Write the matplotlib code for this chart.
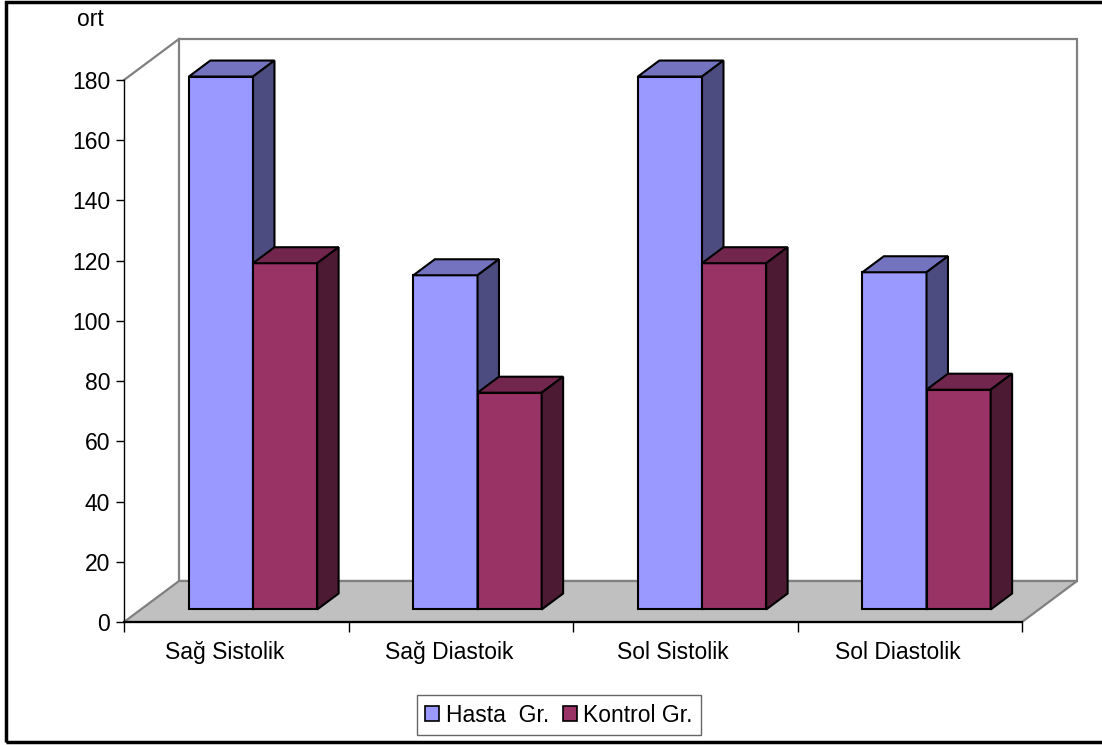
import matplotlib
matplotlib.use('Agg')
import matplotlib.pyplot as plt
from matplotlib.patches import Polygon, Rectangle
from matplotlib.transforms import ScaledTranslation

plt.rcParams['font.family'] = ['Liberation Sans', 'DejaVu Sans']

categories = ['Sağ Sistolik', 'Sağ Diastoik', 'Sol Sistolik', 'Sol Diastolik']
series_names = ['Hasta  Gr.', 'Kontrol Gr.']
hasta = [177, 111, 177, 112]
kontrol = [115, 72, 115, 73]
yticks = [0, 20, 40, 60, 80, 100, 120, 140, 160, 180]

# face colours: front, top, side
colors = {
    'Hasta  Gr.': ('#9999FF', '#7373BF', '#4C4C80'),
    'Kontrol Gr.': ('#993366', '#73264D', '#4D1A33'),
}

W, H = 1102, 745
FS = 16.5
fig = plt.figure(figsize=(W / 100, H / 100), dpi=100)
ax = fig.add_axes([124 / W, (H - 622) / H, 898 / W, 542 / H])
ax.set_xlim(0, len(categories))
ax.set_ylim(0, 180)

# depth of the 3d box in data units
DX = 55 / 898 * len(categories)
DY = 41 / 542 * 180
f0, f1 = 0.305, 0.695
bw = 1 / 3.5
gap = 1.5 * bw
gray = '#808080'

n = len(categories)
# back wall
ax.add_patch(Rectangle((DX, DY), n, 180, facecolor='white', edgecolor=gray,
                       lw=1.6, clip_on=False, zorder=1))
# side wall top edge
ax.plot([0, DX], [180, 180 + DY], color=gray, lw=1.6, clip_on=False, zorder=1)
# floor
ax.add_patch(Polygon([(0, 0), (n, 0), (n + DX, DY), (DX, DY)], closed=True,
                     facecolor='#C0C0C0', edgecolor=gray, lw=1.6,
                     clip_on=False, zorder=2))

d = f1 - f0
for i in range(n):
    for j, (name, vals) in enumerate(zip(series_names, [hasta, kontrol])):
        fc, tc, sc = colors[name]
        xl = i + gap / 2 + j * bw + f0 * DX
        xr = xl + bw
        yb = f0 * DY
        yt = yb + vals[i]
        kw = dict(edgecolor='black', lw=1.5, clip_on=False, zorder=3 + i * 2 + j,
                  joinstyle='miter')
        ax.add_patch(Polygon([(xl, yb), (xr, yb), (xr, yt), (xl, yt)], closed=True,
                             facecolor=fc, **kw))
        ax.add_patch(Polygon([(xl, yt), (xr, yt), (xr + d * DX, yt + d * DY),
                              (xl + d * DX, yt + d * DY)], closed=True,
                             facecolor=tc, **kw))
        ax.add_patch(Polygon([(xr, yb), (xr + d * DX, yb + d * DY),
                              (xr + d * DX, yt + d * DY), (xr, yt)], closed=True,
                             facecolor=sc, **kw))

for s in ['top', 'right']:
    ax.spines[s].set_visible(False)
ax.spines['left'].set_color('black')
ax.spines['left'].set_linewidth(1.0)
ax.spines['bottom'].set_color('black')
ax.spines['bottom'].set_linewidth(1.6)
ax.spines['left'].set_zorder(2.5)
ax.spines['bottom'].set_zorder(2.5)

ax.set_yticks(yticks)
ax.tick_params(axis='y', direction='out', length=6, width=1, labelsize=FS, pad=4)
ax.set_xticks([i + 0.5 for i in range(n)])
ax.set_xticklabels(categories)
ax.set_xticks(range(n + 1), minor=True)
ax.tick_params(axis='x', which='major', length=0, labelsize=FS, pad=14)
ax.tick_params(axis='x', which='minor', direction='out', length=7, width=1)
ax.set_facecolor('none')
shift = ScaledTranslation(-0.12, 0, fig.dpi_scale_trans)
for lab in ax.get_xticklabels():
    lab.set_transform(lab.get_transform() + shift)

fig.text(77 / W, 1 - 20 / H, 'ort', fontsize=FS, va='center', ha='left')

handles = [Rectangle((0, 0), 1, 1, facecolor=colors[s][0], edgecolor='black', lw=1.2)
           for s in series_names]
leg = fig.legend(handles, series_names, loc='center', bbox_to_anchor=(559 / W, 30 / H),
                 ncol=2, fontsize=FS, frameon=True, fancybox=False, edgecolor='#404040',
                 handlelength=0.6, handleheight=0.6, handletextpad=0.3, columnspacing=0.6,
                 borderpad=0.35, borderaxespad=0)
leg.get_frame().set_linewidth(1.0)

fig.patches.append(Rectangle((6 / W, 3 / H), 1.2, 1 - 5 / H, transform=fig.transFigure,
                             facecolor='none', edgecolor='black', lw=2.5))

fig.savefig('out.png', dpi=100)
